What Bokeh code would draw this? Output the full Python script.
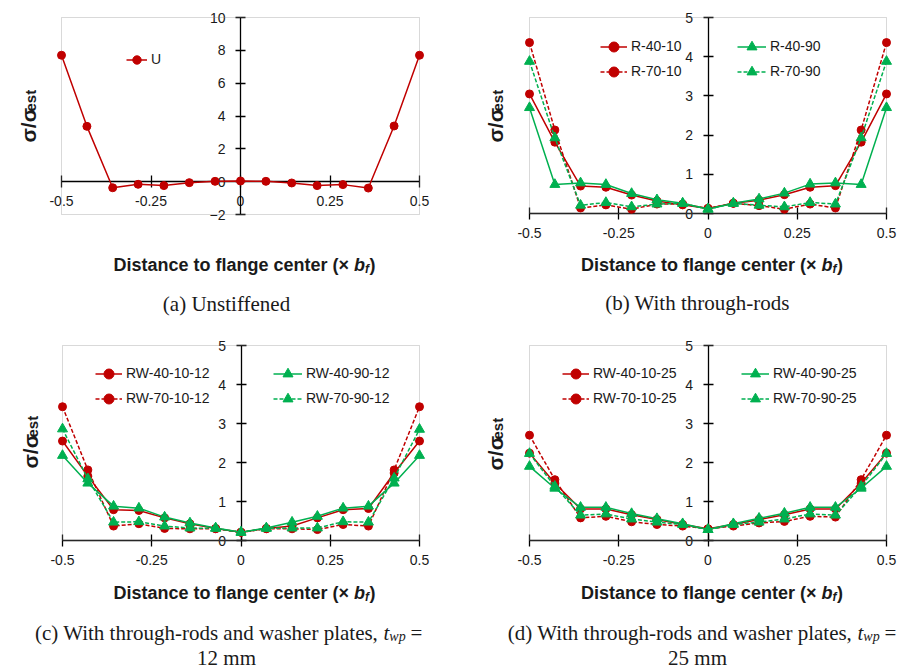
from bokeh.plotting import figure
from bokeh.models import Range1d, LinearAxis, FixedTicker, Label, Legend, LegendItem, BoxAnnotation
from bokeh.layouts import column, row
from bokeh.embed import file_html
from bokeh.resources import INLINE
import math

# ---------------- data ----------------
x_pos = [-0.5, -0.429, -0.357, -0.286, -0.214, -0.143, -0.071, 0.0,
         0.071, 0.143, 0.214, 0.286, 0.357, 0.429, 0.5]
x_ticks = [-0.5, -0.25, 0.0, 0.25, 0.5]
x_tick_labels = ["-0.5", "-0.25", "0", "0.25", "0.5"]
y_ticks_a = [-2, 0, 2, 4, 6, 8, 10]
y_ticks_bcd = [0, 1, 2, 3, 4, 5]

U = [7.7, 3.37, -0.37, -0.16, -0.24, -0.06, 0.02, 0.04, 0.02, -0.08, -0.24, -0.18, -0.39, 3.39, 7.7]

R_40_10 = [3.05, 1.82, 0.70, 0.67, 0.47, 0.32, 0.22, 0.13, 0.26, 0.34, 0.48, 0.67, 0.71, 1.82, 3.05]
R_70_10 = [4.36, 2.13, 0.14, 0.22, 0.11, 0.24, 0.24, 0.13, 0.26, 0.20, 0.11, 0.24, 0.14, 2.13, 4.36]
R_40_90 = [2.70, 0.74, 0.78, 0.74, 0.51, 0.35, 0.26, 0.11, 0.26, 0.37, 0.52, 0.75, 0.78, 0.74, 2.70]
R_70_90 = [3.88, 1.93, 0.21, 0.28, 0.17, 0.24, 0.26, 0.11, 0.26, 0.21, 0.17, 0.28, 0.24, 1.93, 3.88]

RW_40_10_12 = [2.55, 1.65, 0.79, 0.77, 0.58, 0.43, 0.31, 0.21, 0.31, 0.37, 0.58, 0.79, 0.82, 1.73, 2.55]
RW_70_10_12 = [3.43, 1.81, 0.37, 0.43, 0.31, 0.30, 0.30, 0.21, 0.30, 0.30, 0.28, 0.41, 0.37, 1.81, 3.43]
RW_40_90_12 = [2.18, 1.47, 0.88, 0.83, 0.60, 0.45, 0.32, 0.21, 0.32, 0.47, 0.62, 0.83, 0.88, 1.47, 2.18]
RW_70_90_12 = [2.86, 1.58, 0.47, 0.48, 0.37, 0.32, 0.31, 0.21, 0.31, 0.32, 0.32, 0.48, 0.47, 1.60, 2.85]

RW_40_10_25 = [2.24, 1.47, 0.81, 0.81, 0.66, 0.54, 0.41, 0.30, 0.41, 0.54, 0.66, 0.81, 0.81, 1.47, 2.24]
RW_70_10_25 = [2.70, 1.56, 0.58, 0.62, 0.48, 0.41, 0.37, 0.30, 0.37, 0.45, 0.49, 0.62, 0.60, 1.56, 2.70]
RW_40_90_25 = [1.90, 1.34, 0.85, 0.85, 0.69, 0.56, 0.43, 0.28, 0.43, 0.57, 0.70, 0.85, 0.85, 1.34, 1.90]
RW_70_90_25 = [2.23, 1.39, 0.65, 0.68, 0.55, 0.47, 0.41, 0.28, 0.41, 0.47, 0.55, 0.68, 0.65, 1.39, 2.23]

# ---------------- style ----------------
RED = "#C00000"
GREEN = "#00B050"
SANS = "Liberation Sans"
SERIF = "Liberation Serif"
TXT = "#1a1a1a"
BASE_FIX = 7  # correction between intended and rendered text baseline (px)


def make_panel(W, H, left, right, top, bottom, y0, y1, yticks):
    """The plotting frame covers the whole canvas; the data box sits inside it."""
    fw = W - left - right
    fh = H - top - bottom
    xs, xe = -0.5 - left / fw, 0.5 + right / fw
    ys, ye = y0 - bottom / fh * (y1 - y0), y1 + top / fh * (y1 - y0)
    p = figure(width=W, height=H, x_range=Range1d(xs, xe), y_range=Range1d(ys, ye),
               output_backend="svg", toolbar_location=None, title=None,
               x_axis_type=None, y_axis_type=None,
               min_border=0, min_border_left=0, min_border_right=0,
               min_border_top=0, min_border_bottom=0)
    p.outline_line_color = None
    p.background_fill_color = "white"
    p.border_fill_color = "white"
    p.add_layout(BoxAnnotation(left=-0.5, right=0.5, bottom=y0, top=y1,
                               fill_color=None, fill_alpha=0,
                               line_color="#808080", line_width=1, level="underlay"))

    common = dict(axis_line_color="#000000", axis_line_width=1.3,
                  major_tick_line_color="#000000", major_tick_line_width=1.3,
                  minor_tick_line_color=None,
                  major_label_text_font=SANS, major_label_text_font_size="14px",
                  major_label_text_color=TXT, level="underlay")
    xa = LinearAxis(fixed_location=0, bounds=(-0.5, 0.5), ticker=FixedTicker(ticks=x_ticks),
                    major_label_overrides=dict(zip(x_ticks, x_tick_labels)),
                    major_tick_in=6, major_tick_out=6,
                    major_label_standoff=8, **common)
    p.add_layout(xa, "below")
    ya = LinearAxis(fixed_location=0, bounds=(y0, y1), ticker=FixedTicker(ticks=yticks),
                    major_tick_in=5, major_tick_out=5,
                    major_label_standoff=10, **common)
    p.add_layout(ya, "left")

    def conv(px, py):
        return (xs + px / W * (xe - xs), ye - py / H * (ye - ys))
    return p, conv


def series(p, ys, color, marker, dash):
    ln = p.line(x_pos, ys, line_color=color, line_width=1.5, line_dash=dash)
    sc = p.scatter(x_pos, ys, marker=marker, size=8 if marker == "circle" else 10,
                   fill_color=color, line_color=color)
    return [ln, sc]


def legend(p, items, xoff, yoff, gw):
    lg = Legend(items=[LegendItem(label=l, renderers=r) for l, r in items],
                location=(xoff, yoff), orientation="vertical",
                padding=0, spacing=0, margin=0,
                glyph_width=gw, glyph_height=25, label_height=25,
                label_standoff=4, label_text_font=SANS, label_text_font_size="14px",
                label_text_color=TXT, border_line_color=None, background_fill_alpha=0)
    p.add_layout(lg)


def label(p, conv, px, py, text, font, size, style="normal", align="left", angle=0.0):
    if angle:
        px -= BASE_FIX
    else:
        py -= BASE_FIX
    x, y = conv(px, py)
    p.add_layout(Label(x=x, y=y, text=text, text_font=font, text_font_size=f"{size}px",
                       text_font_style=style, text_align=align, text_baseline="alphabetic",
                       text_color=TXT, angle=angle))


def xlabel(p, conv, anchor, base):
    label(p, conv, anchor, base, "Distance to flange center (\u00d7 ", SANS, 18, "bold", "right")
    label(p, conv, anchor, base, "b", SANS, 18, "bold italic")
    label(p, conv, anchor + 11, base + 4, "f", SANS, 12, "bold italic")
    label(p, conv, anchor + 15.5, base, ")", SANS, 18, "bold")


def ylabel(p, conv, bx, by):
    label(p, conv, bx, by, "\u03c3/\u03c3", SANS, 21, "bold", angle=math.pi / 2)
    label(p, conv, bx + 2, by - 31, "est", SANS, 15, "bold", angle=math.pi / 2)


def caption2(p, conv, anchor, base, prefix, line2, center2):
    label(p, conv, anchor, base, prefix, SERIF, 21, "normal", "right")
    label(p, conv, anchor, base, "t", SERIF, 21, "italic")
    label(p, conv, anchor + 5.8, base + 4, "wp", SERIF, 14, "italic")
    label(p, conv, anchor + 27, base, "=", SERIF, 21)
    label(p, conv, center2, base + 25, line2, SERIF, 21, "normal", "center")


# ---------------- (a) ----------------
pa, ca = make_panel(449, 330, 61, 30, 17, 116, -2, 10, y_ticks_a)
ra = series(pa, U, RED, "circle", "solid")
legend(pa, [("U", ra)], 61 + 65, 116 + 142.5, 21)
xlabel(pa, ca, 353.5, 271)
ylabel(pa, ca, 35, 142)
label(pa, ca, 226, 310, "(a) Unstiffened", SERIF, 21, "normal", "center")

# ---------------- (b) ----------------
pb, cb = make_panel(449, 330, 80, 12, 17, 117, 0, 5, y_ticks_bcd)
b1 = series(pb, R_40_10, RED, "circle", "solid")
b2 = series(pb, R_70_10, RED, "circle", "4 2")
b3 = series(pb, R_40_90, GREEN, "triangle", "solid")
b4 = series(pb, R_70_90, GREEN, "triangle", "4 2")
legend(pb, [("R-40-10", b1), ("R-70-10", b2)], 80 + 71, 117 + 129.5, 27)
legend(pb, [("R-40-90", b3), ("R-70-90", b4)], 80 + 208, 117 + 129.5, 29)
xlabel(pb, cb, 372, 271)
ylabel(pb, cb, 53, 142)
label(pb, cb, 248, 309, "(b) With through-rods", SERIF, 21, "normal", "center")

# ---------------- (c) ----------------
pc, cc = make_panel(449, 339, 62, 30, 15, 129, 0, 5, y_ticks_bcd)
c1 = series(pc, RW_40_10_12, RED, "circle", "solid")
c2 = series(pc, RW_70_10_12, RED, "circle", "4 2")
c3 = series(pc, RW_40_90_12, GREEN, "triangle", "solid")
c4 = series(pc, RW_70_90_12, GREEN, "triangle", "4 2")
legend(pc, [("RW-40-10-12", c1), ("RW-70-10-12", c2)], 62 + 33, 129 + 129.5, 27)
legend(pc, [("RW-40-90-12", c3), ("RW-70-90-12", c4)], 62 + 211, 129 + 129.5, 29)
xlabel(pc, cc, 353.5, 269)
ylabel(pc, cc, 37, 138)
caption2(pc, cc, 383, 309, "(c) With through-rods and washer plates, ", "12 mm", 226)

# ---------------- (d) ----------------
pd_, cd = make_panel(449, 339, 80, 12, 15, 129, 0, 5, y_ticks_bcd)
d1 = series(pd_, RW_40_10_25, RED, "circle", "solid")
d2 = series(pd_, RW_70_10_25, RED, "circle", "4 2")
d3 = series(pd_, RW_40_90_25, GREEN, "triangle", "solid")
d4 = series(pd_, RW_70_90_25, GREEN, "triangle", "4 2")
legend(pd_, [("RW-40-10-25", d1), ("RW-70-10-25", d2)], 80 + 33, 129 + 129.5, 27)
legend(pd_, [("RW-40-90-25", d3), ("RW-70-90-25", d4)], 80 + 212, 129 + 129.5, 28)
xlabel(pd_, cd, 372, 269)
ylabel(pd_, cd, 53, 140)
caption2(pd_, cd, 408, 309, "(d) With through-rods and washer plates, ", "25 mm", 248)

layout = column(row(pa, pb), row(pc, pd_))
open("out.html", "w").write(file_html(layout, INLINE))
